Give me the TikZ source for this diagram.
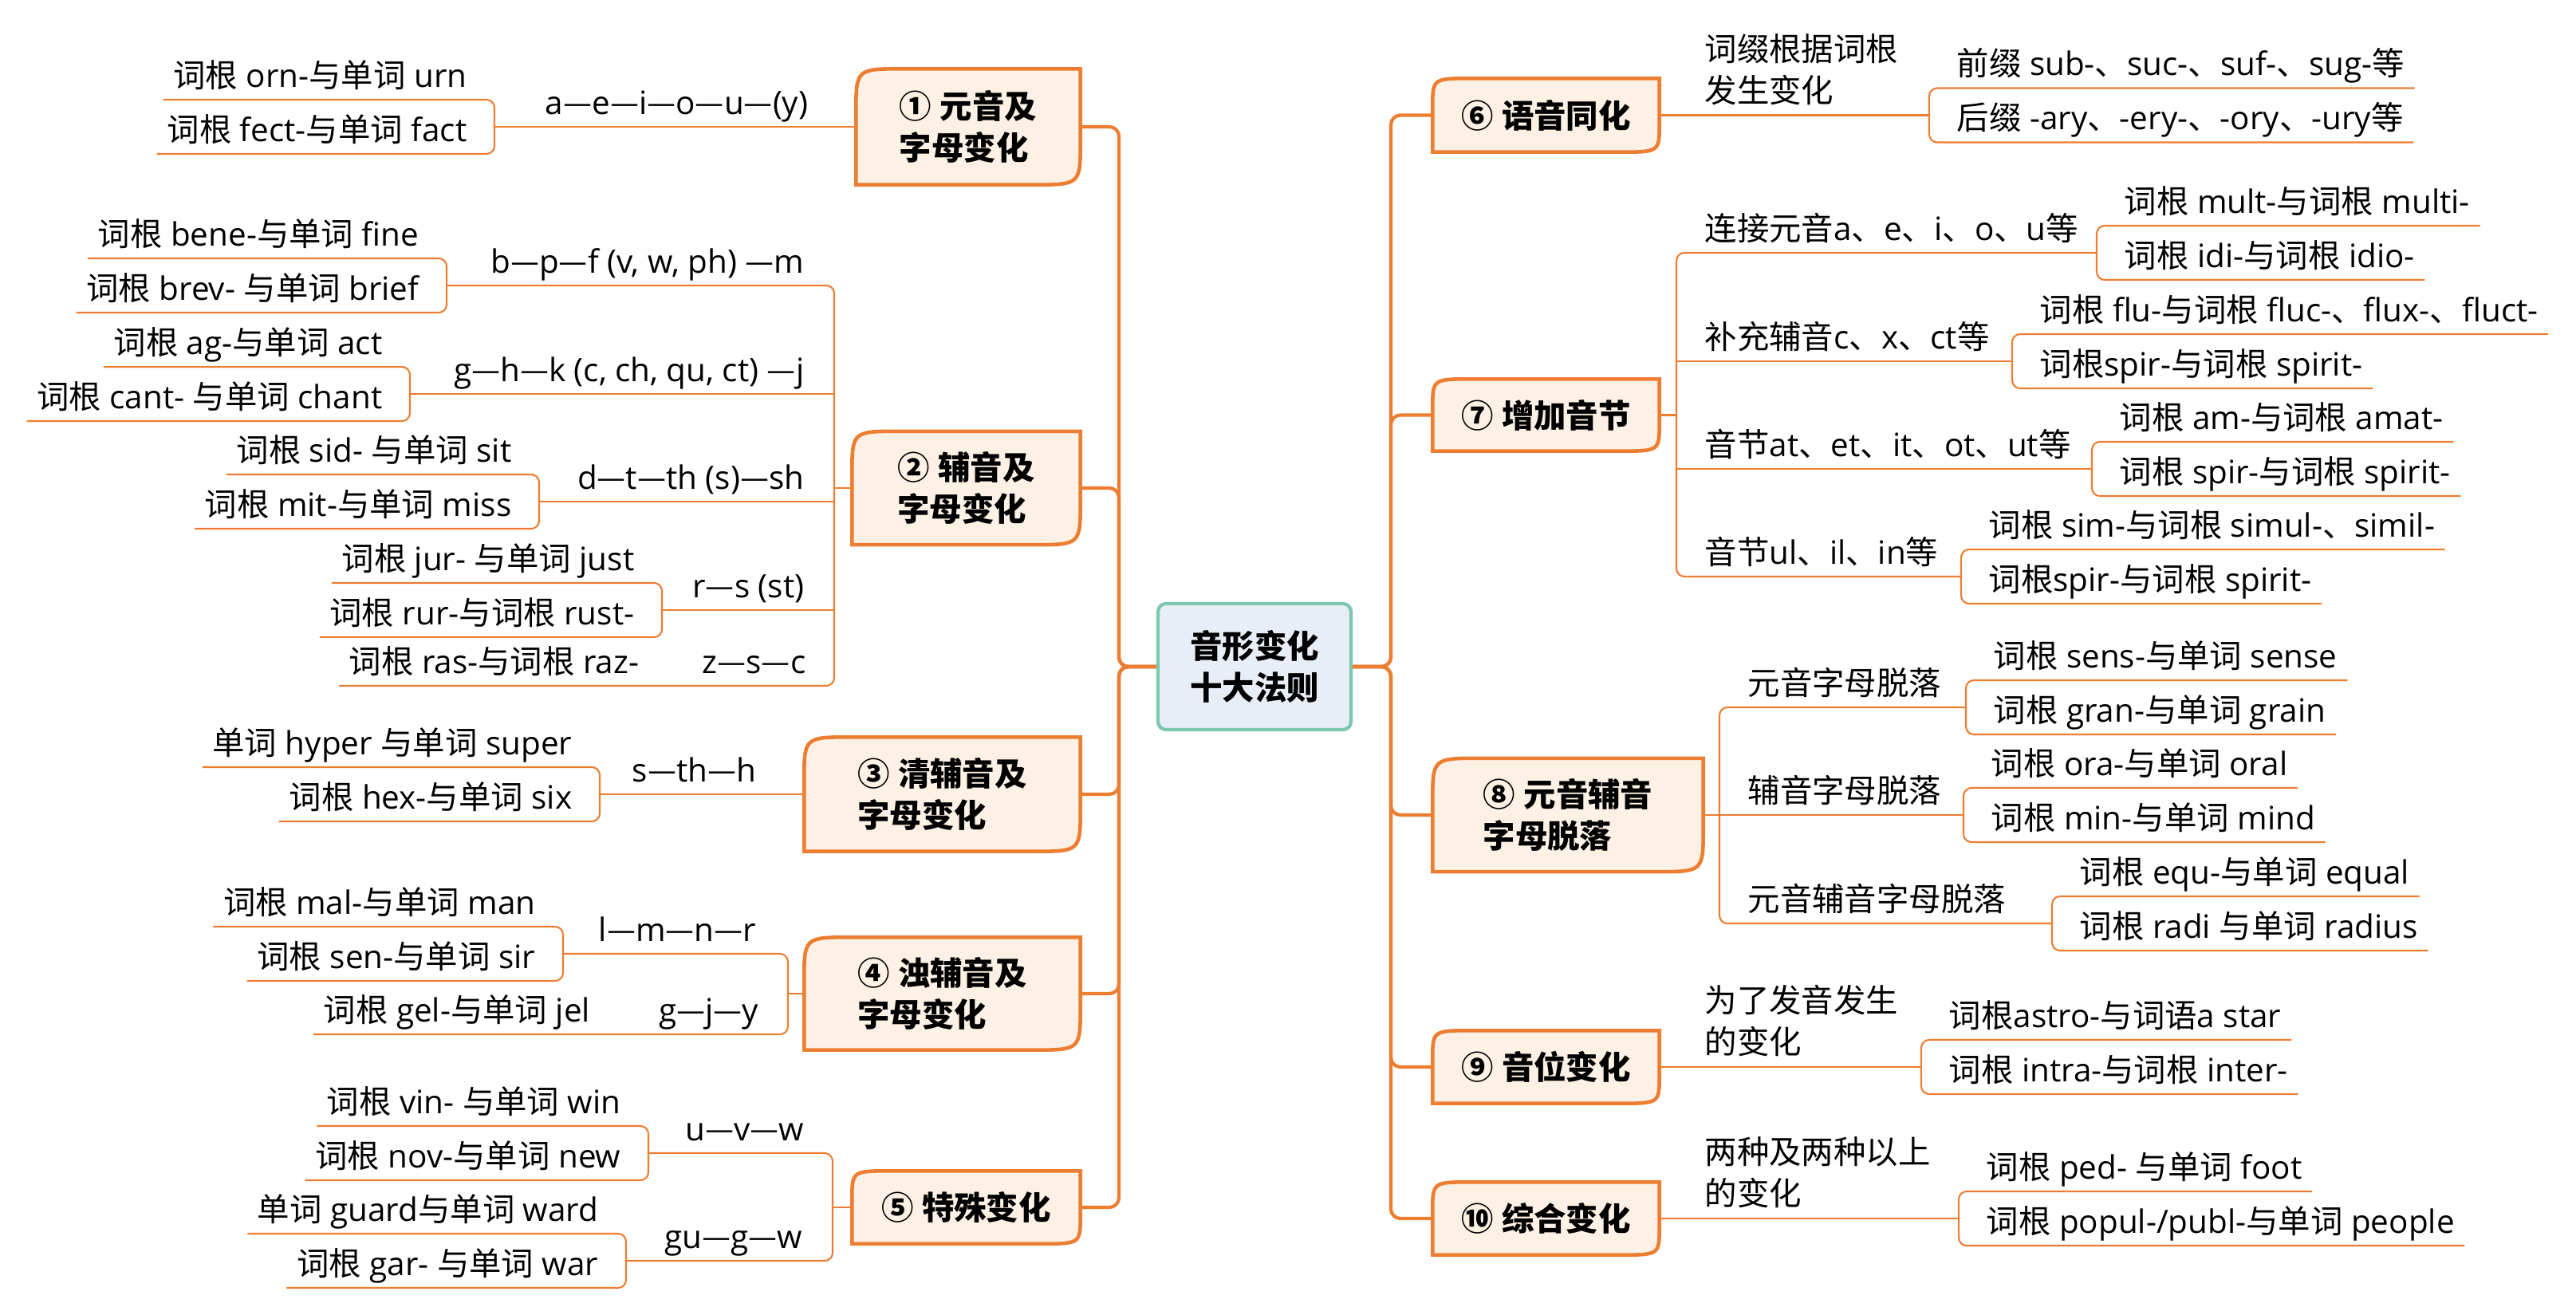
\documentclass[tikz,border=0pt]{standalone}
\usepackage{fontspec}
\usepackage{xcolor}
\usepackage{tikz}
\usetikzlibrary{positioning,calc,backgrounds}
\setmainfont{Open Sans}
\newfontfamily\latinfam{Open Sans}
\newfontfamily\hanfam{Noto Sans CJK SC}
\XeTeXinterchartokenstate=1
\newXeTeXintercharclass\hanclass
\newcount\hancode
\newcommand\hanrange[2]{\hancode=#1\relax\loop\XeTeXcharclass\hancode=\hanclass\relax\ifnum\hancode<#2\advance\hancode by 1\repeat}
\hanrange{"4E00}{"9FFF}
\hanrange{"3000}{"303F}
\hanrange{"FF00}{"FFEF}
\hanrange{"2460}{"2473}
\hanrange{"2014}{"2014}
\XeTeXinterchartoks 0 \hanclass = {\hanfam}
\XeTeXinterchartoks 4095 \hanclass = {\hanfam}
\XeTeXinterchartoks \hanclass 0 = {\latinfam}
\XeTeXinterchartoks \hanclass 4095 = {\latinfam}
\definecolor{org}{HTML}{ED7D31}
\definecolor{peach}{HTML}{FDF0E4}
\definecolor{hubfill}{HTML}{E8EEF8}
\definecolor{hubline}{HTML}{7CC7B0}
\newcommand\petalbox[3]{\begin{scope}[on background layer]
  \draw[org,fill=peach,line width=1.3pt] (#1.south west) -- ($(#1.north west)+(0,#3)$) .. controls (#1.north west) .. ($(#1.north west)+(#2,0)$)
    -- (#1.north east) -- ($(#1.south east)+(0,-#3)$) .. controls (#1.south east) .. ($(#1.south east)+(-#2,0)$) -- cycle;
\end{scope}}

\begin{document}
\begin{tikzpicture}[x=1cm,y=-1cm,
  txt/.style={font=\fontsize{11.5}{14.8}\selectfont,inner ysep=0.05cm},
  leaf/.style={txt,inner xsep=0.12cm,text height=0.33cm,text depth=0.1cm},
  lab/.style={txt,inner xsep=0.1cm,text height=0.33cm,text depth=0.1cm},
  note/.style={txt,inner xsep=0.1cm,inner ysep=0.12cm,align=left},
  petal/.style={font=\fontsize{11.5}{14.8}\selectfont\bfseries,align=left,inner sep=0pt},
  twig/.style={draw=org,line width=0.6pt,rounded corners=0.1cm},
  trunk/.style={draw=org,line width=1.2pt,rounded corners=0.12cm}]
  \useasboundingbox (0,0) rectangle (32.3,16.49);

  \node[draw=hubline,fill=hubfill,line width=1.2pt,rounded corners=0.1cm,minimum width=2.42cm,minimum height=1.58cm,
    font=\fontsize{11.5}{14.8}\selectfont\bfseries,align=center] (hub) at (15.73,8.36) {音形变化\\十大法则};

  \node[petal,minimum width=2.80cm,minimum height=1.44cm] (p1) at (12.14,1.59) {① 元音及\\字母变化};
  \node[petal,minimum width=2.85cm,minimum height=1.41cm] (p2) at (12.115,6.12) {② 辅音及\\字母变化};
  \node[petal,minimum width=3.45cm,minimum height=1.42cm] (p3) at (11.815,9.96) {③ 清辅音及\\字母变化};
  \node[petal,minimum width=3.45cm,minimum height=1.40cm] (p4) at (11.815,12.46) {④ 浊辅音及\\字母变化};
  \node[petal,minimum width=2.85cm,minimum height=0.90cm] (p5) at (12.115,15.14) {⑤ 特殊变化};
  \node[petal,minimum width=2.83cm,minimum height=0.91cm] (p6) at (19.385,1.445) {⑥ 语音同化};
  \node[petal,minimum width=2.83cm,minimum height=0.89cm] (p7) at (19.385,5.205) {⑦ 增加音节};
  \node[petal,minimum width=3.38cm,minimum height=1.41cm] (p8) at (19.66,10.22) {⑧ 元音辅音\\字母脱落};
  \node[petal,minimum width=2.83cm,minimum height=0.90cm] (p9) at (19.385,13.38) {⑨ 音位变化};
  \node[petal,minimum width=2.83cm,minimum height=0.90cm] (p10) at (19.385,15.28) {⑩ 综合变化};
  \foreach \n in {p1,p2,p3,p4,p8}
    \petalbox{\n}{0.6}{0.55};
  \foreach \n in {p5,p6,p7,p9,p10}
    \petalbox{\n}{0.5}{0.36};

  \coordinate (lt) at (14.03,8.36);
  \coordinate (rt) at (17.44,8.36);
  \foreach \n in {p1,p2,p3,p4,p5}
    \draw[trunk] (hub.west) -- (lt) |- (\n.east);
  \foreach \n in {p6,p7,p8,p9,p10}
    \draw[trunk] (hub.east) -- (rt) |- (\n.west);

  \coordinate (j1) at (6.20,1.59);
  \node[lab,anchor=south east] (b1) at (10.24,1.59) {a—e—i—o—u—(y)};
  \node[leaf,anchor=south east] (l1a) at ($(j1)+(-0.22,-0.34)$) {词根 orn-与单词 urn};
  \node[leaf,anchor=south east] (l1b) at ($(j1)+(-0.22,0.34)$) {词根 fect-与单词 fact};
  \draw[twig] (p1.west) -- (j1);
  \draw[twig] (l1a.south west) -| (j1) |- (l1b.south west);

  \coordinate (k2) at (10.46,6.12);
  \coordinate (j2a) at (5.60,3.58);
  \coordinate (j2b) at (5.14,4.94);
  \coordinate (j2c) at (6.76,6.29);
  \coordinate (j2d) at (8.30,7.65);
  \node[lab,anchor=south east] (b2a) at (10.19,3.58) {b—p—f (v, w, ph) —m};
  \node[lab,anchor=south east] (b2b) at (10.19,4.94) {g—h—k (c, ch, qu, ct) —j};
  \node[lab,anchor=south east] (b2c) at (10.19,6.29) {d—t—th (s)—sh};
  \node[lab,anchor=south east] (b2d) at (10.19,7.65) {r—s (st)};
  \node[lab,anchor=south east] (b2e) at (10.21,8.60) {z—s—c};
  \node[leaf,anchor=south east] (l2a1) at ($(j2a)+(-0.22,-0.34)$) {词根 bene-与单词 fine};
  \node[leaf,anchor=south east] (l2a2) at ($(j2a)+(-0.22,0.34)$) {词根 brev- 与单词 brief};
  \node[leaf,anchor=south east] (l2b1) at ($(j2b)+(-0.22,-0.34)$) {词根 ag-与单词 act};
  \node[leaf,anchor=south east] (l2b2) at ($(j2b)+(-0.22,0.34)$) {词根 cant- 与单词 chant};
  \node[leaf,anchor=south east] (l2c1) at ($(j2c)+(-0.22,-0.34)$) {词根 sid- 与单词 sit};
  \node[leaf,anchor=south east] (l2c2) at ($(j2c)+(-0.22,0.34)$) {词根 mit-与单词 miss};
  \node[leaf,anchor=south east] (l2d1) at ($(j2d)+(-0.22,-0.34)$) {词根 jur- 与单词 just};
  \node[leaf,anchor=south east] (l2d2) at ($(j2d)+(-0.22,0.34)$) {词根 rur-与词根 rust-};
  \node[leaf,anchor=south west] (l2e) at (4.25,8.60) {词根 ras-与词根 raz-};
  \draw[twig] (p2.west) -- (k2);
  \draw[twig] (j2a) -| (k2) |- (l2e.south west);
  \foreach \j in {j2b,j2c,j2d}
    \draw[twig] (\j) -- (\j -| k2);
  \draw[twig] (l2a1.south west) -| (j2a) |- (l2a2.south west);
  \draw[twig] (l2b1.south west) -| (j2b) |- (l2b2.south west);
  \draw[twig] (l2c1.south west) -| (j2c) |- (l2c2.south west);
  \draw[twig] (l2d1.south west) -| (j2d) |- (l2d2.south west);

  \coordinate (j3) at (7.52,9.96);
  \node[lab,anchor=south east] (b3) at (9.59,9.96) {s—th—h};
  \node[leaf,anchor=south east] (l3a) at ($(j3)+(-0.22,-0.34)$) {单词 hyper 与单词 super};
  \node[leaf,anchor=south east] (l3b) at ($(j3)+(-0.22,0.34)$) {词根 hex-与单词 six};
  \draw[twig] (p3.west) -- (j3);
  \draw[twig] (l3a.south west) -| (j3) |- (l3b.south west);

  \coordinate (k4) at (9.88,12.46);
  \coordinate (j4a) at (7.06,11.96);
  \node[lab,anchor=south east] (b4a) at (9.59,11.96) {l—m—n—r};
  \node[lab,anchor=south east] (b4b) at (9.62,12.97) {g—j—y};
  \node[leaf,anchor=south east] (l4a) at ($(j4a)+(-0.22,-0.34)$) {词根 mal-与单词 man};
  \node[leaf,anchor=south east] (l4b) at ($(j4a)+(-0.22,0.34)$) {词根 sen-与单词 sir};
  \node[leaf,anchor=south west] (l4c) at (3.93,12.97) {词根 gel-与单词 jel};
  \draw[twig] (p4.west) -- (k4);
  \draw[twig] (j4a) -| (k4) |- (l4c.south west);
  \draw[twig] (l4a.south west) -| (j4a) |- (l4b.south west);

  \coordinate (k5) at (10.44,15.14);
  \coordinate (j5a) at (8.13,14.46);
  \coordinate (j5b) at (7.85,15.81);
  \node[lab,anchor=south east] (b5a) at (10.19,14.46) {u—v—w};
  \node[lab,anchor=south east] (b5b) at (10.17,15.81) {gu—g—w};
  \node[leaf,anchor=south east] (l5a1) at ($(j5a)+(-0.22,-0.34)$) {词根 vin- 与单词 win};
  \node[leaf,anchor=south east] (l5a2) at ($(j5a)+(-0.22,0.34)$) {词根 nov-与单词 new};
  \node[leaf,anchor=south east] (l5b1) at ($(j5b)+(-0.22,-0.34)$) {单词 guard与单词 ward};
  \node[leaf,anchor=south east] (l5b2) at ($(j5b)+(-0.22,0.34)$) {词根 gar- 与单词 war};
  \draw[twig] (p5.west) -- (k5);
  \draw[twig] (j5a) -| (k5) |- (j5b);
  \draw[twig] (l5a1.south west) -| (j5a) |- (l5a2.south west);
  \draw[twig] (l5b1.south west) -| (j5b) |- (l5b2.south west);

  \coordinate (j6) at (24.19,1.445);
  \node[note,anchor=south west] (b6) at (21.27,1.445) {词缀根据词根\\发生变化};
  \node[leaf,anchor=south west] (l6a) at ($(j6)+(0.22,-0.34)$) {前缀 sub-、suc-、suf-、sug-等};
  \node[leaf,anchor=south west] (l6b) at ($(j6)+(0.22,0.34)$) {后缀 -ary、-ery-、-ory、-ury等};
  \draw[twig] (p6.east) -- (j6);
  \draw[twig] (l6a.south east) -| (j6) |- (l6b.south east);

  \coordinate (k7) at (21.02,5.205);
  \coordinate (j7a) at (26.29,3.17);
  \coordinate (j7b) at (25.23,4.53);
  \coordinate (j7c) at (26.23,5.88);
  \coordinate (j7d) at (24.59,7.23);
  \node[lab,anchor=south west] (b7a) at (21.27,3.17) {连接元音a、e、i、o、u等};
  \node[lab,anchor=south west] (b7b) at (21.27,4.53) {补充辅音c、x、ct等};
  \node[lab,anchor=south west] (b7c) at (21.27,5.88) {音节at、et、it、ot、ut等};
  \node[lab,anchor=south west] (b7d) at (21.27,7.23) {音节ul、il、in等};
  \node[leaf,anchor=south west] (l7a1) at ($(j7a)+(0.22,-0.34)$) {词根 mult-与词根 multi-};
  \node[leaf,anchor=south west] (l7a2) at ($(j7a)+(0.22,0.34)$) {词根 idi-与词根 idio-};
  \node[leaf,anchor=south west] (l7b1) at ($(j7b)+(0.22,-0.34)$) {词根 flu-与词根 fluc-、flux-、fluct-};
  \node[leaf,anchor=south west] (l7b2) at ($(j7b)+(0.22,0.34)$) {词根spir-与词根 spirit-};
  \node[leaf,anchor=south west] (l7c1) at ($(j7c)+(0.22,-0.34)$) {词根 am-与词根 amat-};
  \node[leaf,anchor=south west] (l7c2) at ($(j7c)+(0.22,0.34)$) {词根 spir-与词根 spirit-};
  \node[leaf,anchor=south west] (l7d1) at ($(j7d)+(0.22,-0.34)$) {词根 sim-与词根 simul-、simil-};
  \node[leaf,anchor=south west] (l7d2) at ($(j7d)+(0.22,0.34)$) {词根spir-与词根 spirit-};
  \draw[twig] (p7.east) -- (k7);
  \draw[twig] (j7a) -| (k7) |- (j7d);
  \foreach \j in {j7b,j7c}
    \draw[twig] (\j -| k7) -- (\j);
  \draw[twig] (l7a1.south east) -| (j7a) |- (l7a2.south east);
  \draw[twig] (l7b1.south east) -| (j7b) |- (l7b2.south east);
  \draw[twig] (l7c1.south east) -| (j7c) |- (l7c2.south east);
  \draw[twig] (l7d1.south east) -| (j7d) |- (l7d2.south east);

  \coordinate (k8) at (21.56,10.22);
  \coordinate (j8a) at (24.65,8.87);
  \coordinate (j8b) at (24.62,10.22);
  \coordinate (j8c) at (25.73,11.58);
  \node[lab,anchor=south west] (b8a) at (21.81,8.87) {元音字母脱落};
  \node[lab,anchor=south west] (b8b) at (21.81,10.22) {辅音字母脱落};
  \node[lab,anchor=south west] (b8c) at (21.81,11.58) {元音辅音字母脱落};
  \node[leaf,anchor=south west] (l8a1) at ($(j8a)+(0.22,-0.34)$) {词根 sens-与单词 sense};
  \node[leaf,anchor=south west] (l8a2) at ($(j8a)+(0.22,0.34)$) {词根 gran-与单词 grain};
  \node[leaf,anchor=south west] (l8b1) at ($(j8b)+(0.22,-0.34)$) {词根 ora-与单词 oral};
  \node[leaf,anchor=south west] (l8b2) at ($(j8b)+(0.22,0.34)$) {词根 min-与单词 mind};
  \node[leaf,anchor=south west] (l8c1) at ($(j8c)+(0.22,-0.34)$) {词根 equ-与单词 equal};
  \node[leaf,anchor=south west] (l8c2) at ($(j8c)+(0.22,0.34)$) {词根 radi 与单词 radius};
  \draw[twig] (p8.east) -- (j8b);
  \draw[twig] (j8a) -| (k8) |- (j8c);
  \draw[twig] (l8a1.south east) -| (j8a) |- (l8a2.south east);
  \draw[twig] (l8b1.south east) -| (j8b) |- (l8b2.south east);
  \draw[twig] (l8c1.south east) -| (j8c) |- (l8c2.south east);

  \coordinate (j9) at (24.09,13.38);
  \node[note,anchor=south west] (b9) at (21.27,13.38) {为了发音发生\\的变化};
  \node[leaf,anchor=south west] (l9a) at ($(j9)+(0.22,-0.34)$) {词根astro-与词语a star};
  \node[leaf,anchor=south west] (l9b) at ($(j9)+(0.22,0.34)$) {词根 intra-与词根 inter-};
  \draw[twig] (p9.east) -- (j9);
  \draw[twig] (l9a.south east) -| (j9) |- (l9b.south east);

  \coordinate (j10) at (24.56,15.28);
  \node[note,anchor=south west] (b10) at (21.27,15.28) {两种及两种以上\\的变化};
  \node[leaf,anchor=south west] (l10a) at ($(j10)+(0.22,-0.34)$) {词根 ped- 与单词 foot};
  \node[leaf,anchor=south west] (l10b) at ($(j10)+(0.22,0.34)$) {词根 popul-/publ-与单词 people};
  \draw[twig] (p10.east) -- (j10);
  \draw[twig] (l10a.south east) -| (j10) |- (l10b.south east);
\end{tikzpicture}
\end{document}
